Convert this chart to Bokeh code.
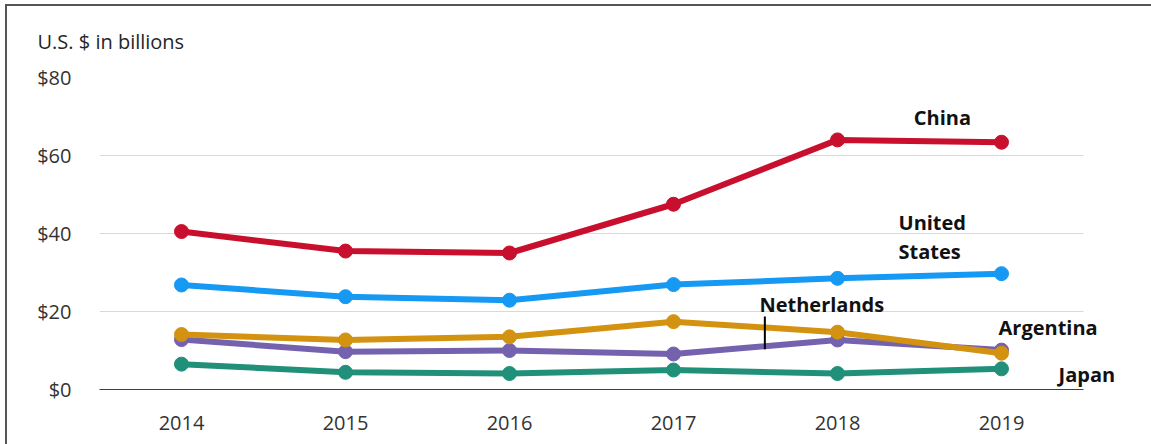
from bokeh.plotting import figure
from bokeh.models import Range1d, FixedTicker, NumeralTickFormatter, Label, BoxAnnotation
from bokeh.embed import file_html
from bokeh.resources import INLINE

years = [2014, 2015, 2016, 2017, 2018, 2019]
china = [40.5, 35.5, 35.0, 47.5, 64.0, 63.4]
united_states = [26.8, 23.8, 22.9, 26.9, 28.5, 29.7]
argentina = [14.1, 12.7, 13.5, 17.4, 14.7, 9.3]
netherlands = [12.8, 9.7, 10.0, 9.1, 12.7, 10.1]
japan = [6.5, 4.4, 4.1, 5.0, 4.1, 5.3]
y_ticks = [0, 20, 40, 60, 80]

series = [
    ("Japan", japan, "#21907B"),
    ("Netherlands", netherlands, "#7562AE"),
    ("Argentina", argentina, "#D3920F"),
    ("United States", united_states, "#1699F3"),
    ("China", china, "#C8102E"),
]

FONT = "Open Sans"
X0, X1 = 2013.5, 2019.5
X_END = X0 + (1151 - 99) / 164.0

p = figure(width=1151, height=444, output_backend="svg", toolbar_location=None,
           x_range=Range1d(X0, X_END), y_range=Range1d(0, 80),
           min_border_left=99, min_border_right=0, min_border_top=77, min_border_bottom=55,
           title="U.S. $ in billions")
p.outline_line_color = None
p.background_fill_color = "white"
p.border_fill_color = None
p.styles = {
    "background-color": "white",
    "background-image": "linear-gradient(#555555, #555555), linear-gradient(#555555, #555555)",
    "background-size": "100% 2px, 2px 100%",
    "background-position": "5px 4px, 5px 4px",
    "background-repeat": "no-repeat",
}

p.title.align = "left"
p.title.offset = -62
p.title.standoff = 45
p.title.text_font = FONT
p.title.text_font_size = "20px"
p.title.text_font_style = "normal"
p.title.text_color = "#262626"

# grid
p.xgrid.grid_line_color = None
p.ygrid.ticker = FixedTicker(ticks=y_ticks)
p.ygrid.grid_line_color = "#d9d9d9"
p.ygrid.grid_line_width = 1
# keep grid lines inside the plotted span
p.add_layout(BoxAnnotation(left=X1, fill_color="white", fill_alpha=1.0,
                           line_color=None, level="underlay"))

for name, vals, col in series:
    p.line(years, vals, line_color=col, line_width=6)
    p.scatter(years, vals, size=14, fill_color=col, line_color=col)

# axes
p.xaxis.ticker = FixedTicker(ticks=years)
p.xaxis.bounds = (X0, X1)
p.xaxis.major_tick_line_color = None
p.xaxis.minor_tick_line_color = None
p.xaxis.axis_line_color = "#404040"
p.xaxis.axis_line_width = 1
p.xaxis.major_label_standoff = 20
p.xaxis.major_label_text_font = FONT
p.xaxis.major_label_text_font_size = "20px"
p.xaxis.major_label_text_color = "#333333"

p.yaxis.ticker = FixedTicker(ticks=y_ticks)
p.yaxis.formatter = NumeralTickFormatter(format="$0")
p.yaxis.axis_line_color = None
p.yaxis.major_tick_line_color = None
p.yaxis.minor_tick_line_color = None
p.yaxis.major_label_standoff = 22
p.yaxis.major_label_text_font = FONT
p.yaxis.major_label_text_font_size = "20px"
p.yaxis.major_label_text_color = "#333333"

def lab(x, y, t, align="left"):
    p.add_layout(Label(x=x, y=y, text=t, text_font=FONT, text_font_size="20px",
                       text_font_style="bold", text_color="#111111",
                       text_baseline="middle", text_align=align))

lab(2018.640, 69.87, "China", "center")
lab(2018.372, 42.82, "United")
lab(2018.372, 35.26, "States")
lab(2017.524, 21.79, "Netherlands")
lab(2018.982, 15.77, "Argentina")
lab(2019.348, 3.85, "Japan")

# leader line for Netherlands
p.segment(x0=[2017.557], y0=[18.72], x1=[2017.557], y1=[10.33], line_color="black", line_width=2)

open("out.html", "w").write(file_html(p, INLINE))
